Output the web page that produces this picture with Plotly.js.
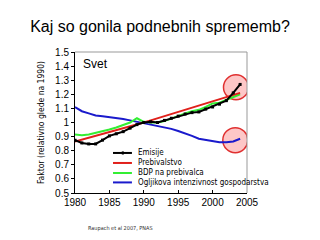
<!DOCTYPE html>
<html>
<head>
<meta charset="utf-8">
<script src="https://cdn.plot.ly/plotly-3.0.1.min.js"></script>
<style>html,body{margin:0;padding:0;background:#fff;}#chart{width:320px;height:240px;}</style>
</head>
<body>
<div id="chart"></div>
<script>
const years = [1980,1981,1982,1983,1984,1985,1986,1987,1988,1989,1990,1991,1992,1993,1994,1995,1996,1997,1998,1999,2000,2001,2002,2003,2004];
const emisije = [0.875,0.855,0.848,0.848,0.875,0.905,0.92,0.935,0.96,0.985,1.0,1.005,1.0,1.015,1.03,1.045,1.06,1.07,1.075,1.095,1.11,1.13,1.155,1.21,1.27];
const prebivalstvo = [0.865,0.878,0.891,0.905,0.918,0.932,0.945,0.959,0.972,0.986,1.0,1.015,1.03,1.045,1.06,1.075,1.09,1.105,1.12,1.135,1.15,1.165,1.18,1.195,1.21];
const bdp = [0.915,0.91,0.915,0.925,0.94,0.95,0.965,0.98,1.0,1.03,1.005,1.0,1.0,1.01,1.03,1.05,1.065,1.08,1.09,1.11,1.135,1.14,1.16,1.18,1.2];
const intenzivnost = [1.11,1.08,1.065,1.05,1.045,1.04,1.03,1.025,1.015,1.005,1.0,0.99,0.975,0.97,0.955,0.94,0.925,0.905,0.885,0.875,0.865,0.86,0.86,0.865,0.885];
const circleX = [2003.4, 2003.3];
const circleY = [1.25, 0.875];
const seriesNames = ['Emisije','Prebivalstvo','BDP na prebivalca','Ogljikova intenzivnost gospodarstva'];
const seriesColors = ['#000000','#e0201b','#33ee33','#1a1acc'];
const xTicks = [1980,1985,1990,1995,2000,2005];
const yTicks = [0.5,0.6,0.7,0.8,0.9,1,1.1,1.2,1.3,1.4,1.5];

const FONT = 'Liberation Sans, Arial, sans-serif';
const NARROW = 'DejaVu Sans Condensed, Liberation Sans, sans-serif';
const seriesData = [emisije, prebivalstvo, bdp, intenzivnost];

const traces = [{
  x: circleX, y: circleY, type: 'scatter', mode: 'markers', showlegend: false, hoverinfo: 'skip',
  marker: {size: 25, color: 'rgba(252,185,185,0.8)', line: {color: '#e03030', width: 1.5}}
}];
[3,2,1,0].forEach(i => {
  traces.push({
    x: years, y: seriesData[i], type: 'scatter',
    mode: i === 0 ? 'lines+markers' : 'lines',
    name: seriesNames[i], showlegend: false,
    line: {color: seriesColors[i], width: 2},
    marker: {symbol: 'square', size: 3, color: '#000'}
  });
});

const legY = [0.284, 0.213, 0.142, 0.075];
const shapes = [
  {type:'line', xref:'paper', yref:'paper', x0:0, x1:1, y0:1, y1:1, line:{color:'#999', width:1}},
  {type:'line', xref:'paper', yref:'paper', x0:1, x1:1, y0:0, y1:1, line:{color:'#999', width:1}}
];
const annotations = [
  {xref:'paper', yref:'paper', x:0.035, y:0.915, text:'Svet', showarrow:false, xanchor:'left', yanchor:'middle', font:{family:FONT, size:12, color:'#000'}},
  {xref:'paper', yref:'paper', x:0.064, y:-0.255, text:'Raupach et al 2007, PNAS', showarrow:false, xanchor:'left', yanchor:'middle', font:{family:NARROW, size:5.5, color:'#333'}}
];
seriesNames.forEach((n, i) => {
  shapes.push({type:'line', xref:'paper', yref:'paper', x0:0.221, x1:0.331, y0:legY[i], y1:legY[i], line:{color:seriesColors[i], width:2}});
  annotations.push({xref:'paper', yref:'paper', x:0.352, y:legY[i], text:n, showarrow:false, xanchor:'left', yanchor:'middle', font:{family:NARROW, size:8, color:'#000'}});
});
shapes.push({type:'rect', xref:'paper', yref:'paper', x0:0.272, x1:0.284, y0:legY[0]-0.011, y1:legY[0]+0.011, fillcolor:'#000', line:{width:0}});

const layout = {
  width: 320, height: 240,
  margin: {l: 75, r: 73, t: 52, b: 47},
  paper_bgcolor: '#fff', plot_bgcolor: '#fff',
  title: {text: 'Kaj so gonila podnebnih sprememb?', x: 0.5, xanchor: 'center', y: 0.89, yanchor: 'middle', yref: 'container',
          font: {family: FONT, size: 16, color: '#000'}},
  xaxis: {range: [1980, 2005], tickvals: xTicks, ticks: 'inside', ticklen: 3, tickcolor: '#000',
          showline: true, linecolor: '#000', linewidth: 1, showgrid: false, zeroline: false,
          tickfont: {family: FONT, size: 10, color: '#000'}, fixedrange: true},
  yaxis: {range: [0.5, 1.5], tickvals: yTicks, ticks: 'outside', ticklen: 3, tickcolor: '#000',
          showline: true, linecolor: '#000', linewidth: 1, showgrid: false, zeroline: false,
          tickfont: {family: FONT, size: 10, color: '#000'}, fixedrange: true,
          title: {text: 'Faktor (relativno glede na 1990)', standoff: 9, font: {family: NARROW, size: 8.5, color: '#000'}}},
  shapes: shapes,
  annotations: annotations,
  showlegend: false
};
Plotly.newPlot('chart', traces, layout, {staticPlot: true, displayModeBar: false});
</script>
</body>
</html>
